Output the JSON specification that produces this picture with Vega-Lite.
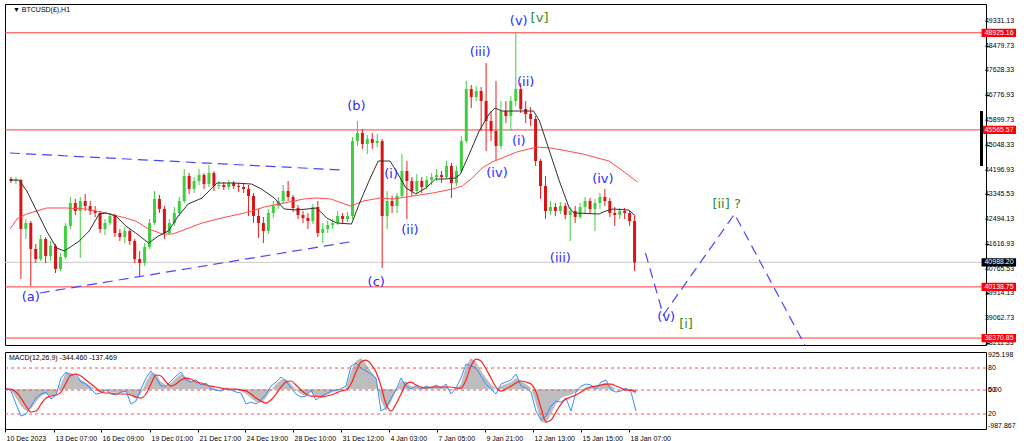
{
"$schema": "https://vega.github.io/schema/vega-lite/v6.json",
"background": "white",
"padding": {"left": 3, "top": 3, "right": 0, "bottom": 0},
"spacing": 2,
"config": {
  "view": {"stroke": "#000", "strokeWidth": 1},
  "axis": {"grid": false, "domain": false, "labelFont": "Liberation Sans", "labelFontSize": 7, "labelColor": "#000", "tickColor": "#000", "tickSize": 3, "labelPadding": 2, "title": null, "labelOverlap": false, "labelFlush": false, "labelBound": false}
},
"datasets": {
  "candles": [
{"i":0,"o":43869,"h":43938,"l":43731,"c":43800},
{"i":1,"o":43800,"h":43938,"l":43696,"c":43834},
{"i":2,"o":43834,"h":43869,"l":40412,"c":42140},
{"i":3,"o":42140,"h":42486,"l":41795,"c":42348},
{"i":4,"o":42348,"h":42417,"l":40170,"c":41449},
{"i":5,"o":41449,"h":41622,"l":40965,"c":41103},
{"i":6,"o":41103,"h":41933,"l":41034,"c":41795},
{"i":7,"o":41795,"h":41864,"l":40965,"c":41207},
{"i":8,"o":41207,"h":41726,"l":41034,"c":41553},
{"i":9,"o":41553,"h":41622,"l":40619,"c":40758},
{"i":10,"o":40758,"h":41311,"l":40688,"c":41172},
{"i":11,"o":41172,"h":42348,"l":41103,"c":42244},
{"i":12,"o":42244,"h":43247,"l":42140,"c":43039},
{"i":13,"o":43039,"h":43178,"l":42624,"c":42763},
{"i":14,"o":42763,"h":43247,"l":41138,"c":43108},
{"i":15,"o":43108,"h":43350,"l":42763,"c":42936},
{"i":16,"o":42936,"h":43108,"l":42624,"c":42763},
{"i":17,"o":42763,"h":42936,"l":42555,"c":42694},
{"i":18,"o":42694,"h":42763,"l":42002,"c":42140},
{"i":19,"o":42140,"h":42486,"l":41933,"c":42348},
{"i":20,"o":42348,"h":42694,"l":42279,"c":42590},
{"i":21,"o":42590,"h":42659,"l":41864,"c":42002},
{"i":22,"o":42002,"h":42140,"l":41726,"c":41864},
{"i":23,"o":41864,"h":42210,"l":41656,"c":42071},
{"i":24,"o":42071,"h":42140,"l":41587,"c":41726},
{"i":25,"o":41726,"h":41795,"l":40965,"c":41103},
{"i":26,"o":41103,"h":41380,"l":40516,"c":40965},
{"i":27,"o":40965,"h":41656,"l":40862,"c":41518},
{"i":28,"o":41518,"h":42486,"l":41449,"c":42348},
{"i":29,"o":42348,"h":43454,"l":42279,"c":43178},
{"i":30,"o":43178,"h":43316,"l":42694,"c":42832},
{"i":31,"o":42832,"h":42936,"l":41795,"c":42002},
{"i":32,"o":42002,"h":42486,"l":41933,"c":42348},
{"i":33,"o":42348,"h":42901,"l":42244,"c":42694},
{"i":34,"o":42694,"h":43247,"l":42590,"c":43108},
{"i":35,"o":43108,"h":44215,"l":43039,"c":43973},
{"i":36,"o":43973,"h":44076,"l":43350,"c":43523},
{"i":37,"o":43523,"h":43938,"l":43385,"c":43800},
{"i":38,"o":43800,"h":44215,"l":43662,"c":44007},
{"i":39,"o":44007,"h":44076,"l":43523,"c":43696},
{"i":40,"o":43696,"h":44353,"l":43592,"c":44076},
{"i":41,"o":44076,"h":44146,"l":43454,"c":43627},
{"i":42,"o":43627,"h":43800,"l":43523,"c":43662},
{"i":43,"o":43662,"h":43765,"l":43489,"c":43592},
{"i":44,"o":43592,"h":43834,"l":43489,"c":43731},
{"i":45,"o":43731,"h":43800,"l":43523,"c":43627},
{"i":46,"o":43627,"h":43731,"l":43420,"c":43592},
{"i":47,"o":43592,"h":43696,"l":43385,"c":43523},
{"i":48,"o":43523,"h":43662,"l":42590,"c":43281},
{"i":49,"o":43281,"h":43385,"l":42348,"c":42590},
{"i":50,"o":42590,"h":42832,"l":41829,"c":42348},
{"i":51,"o":42348,"h":42555,"l":41656,"c":42071},
{"i":52,"o":42071,"h":42832,"l":41968,"c":42694},
{"i":53,"o":42694,"h":43108,"l":42521,"c":42936},
{"i":54,"o":42936,"h":43247,"l":42832,"c":43108},
{"i":55,"o":43108,"h":43662,"l":43005,"c":43454},
{"i":56,"o":43454,"h":43800,"l":43108,"c":43247},
{"i":57,"o":43247,"h":43316,"l":42728,"c":42867},
{"i":58,"o":42867,"h":42970,"l":42486,"c":42624},
{"i":59,"o":42624,"h":42763,"l":42348,"c":42521},
{"i":60,"o":42521,"h":42694,"l":42140,"c":42417},
{"i":61,"o":42417,"h":43005,"l":42313,"c":42901},
{"i":62,"o":42901,"h":43108,"l":41864,"c":42002},
{"i":63,"o":42002,"h":42348,"l":41656,"c":42140},
{"i":64,"o":42140,"h":42417,"l":42002,"c":42279},
{"i":65,"o":42279,"h":42486,"l":42140,"c":42348},
{"i":66,"o":42348,"h":42763,"l":42279,"c":42590},
{"i":67,"o":42590,"h":42694,"l":42348,"c":42486},
{"i":68,"o":42486,"h":42728,"l":42382,"c":42590},
{"i":69,"o":42590,"h":45321,"l":42486,"c":45183},
{"i":70,"o":45183,"h":45874,"l":45010,"c":45459},
{"i":71,"o":45459,"h":45597,"l":44906,"c":45079},
{"i":72,"o":45079,"h":45390,"l":44733,"c":45252},
{"i":73,"o":45252,"h":45459,"l":44906,"c":45113},
{"i":74,"o":45113,"h":45424,"l":44975,"c":45183},
{"i":75,"o":45183,"h":45252,"l":40793,"c":42590},
{"i":76,"o":42590,"h":43454,"l":42140,"c":43108},
{"i":77,"o":43108,"h":43281,"l":42694,"c":42936},
{"i":78,"o":42936,"h":43385,"l":42694,"c":43281},
{"i":79,"o":43281,"h":44733,"l":43212,"c":44146},
{"i":80,"o":44146,"h":44491,"l":42486,"c":43800},
{"i":81,"o":43800,"h":43938,"l":43281,"c":43454},
{"i":82,"o":43454,"h":44042,"l":43350,"c":43800},
{"i":83,"o":43800,"h":43938,"l":43385,"c":43592},
{"i":84,"o":43592,"h":43973,"l":43523,"c":43834},
{"i":85,"o":43834,"h":44076,"l":43662,"c":43938},
{"i":86,"o":43938,"h":44215,"l":43800,"c":44007},
{"i":87,"o":44007,"h":44146,"l":43731,"c":43938},
{"i":88,"o":43938,"h":44491,"l":43869,"c":44318},
{"i":89,"o":44318,"h":44422,"l":43212,"c":43731},
{"i":90,"o":43731,"h":44318,"l":43627,"c":44146},
{"i":91,"o":44146,"h":45355,"l":44076,"c":45183},
{"i":92,"o":45183,"h":47257,"l":45113,"c":46980},
{"i":93,"o":46980,"h":47119,"l":46323,"c":46704},
{"i":94,"o":46704,"h":47084,"l":46565,"c":46911},
{"i":95,"o":46911,"h":47050,"l":45528,"c":46565},
{"i":96,"o":46565,"h":47879,"l":44837,"c":45874},
{"i":97,"o":45874,"h":46220,"l":45183,"c":45528},
{"i":98,"o":45528,"h":47257,"l":44491,"c":45010},
{"i":99,"o":45010,"h":46565,"l":44906,"c":46220},
{"i":100,"o":46220,"h":46565,"l":45805,"c":46047},
{"i":101,"o":46047,"h":46738,"l":45528,"c":46565},
{"i":102,"o":46565,"h":48950,"l":46392,"c":46980},
{"i":103,"o":46980,"h":47188,"l":46151,"c":46289},
{"i":104,"o":46289,"h":46565,"l":45805,"c":46116},
{"i":105,"o":46116,"h":46358,"l":45701,"c":45943},
{"i":106,"o":45943,"h":46047,"l":44318,"c":44491},
{"i":107,"o":44491,"h":44560,"l":43178,"c":43627},
{"i":108,"o":43627,"h":43973,"l":42486,"c":42763},
{"i":109,"o":42763,"h":43108,"l":42624,"c":42901},
{"i":110,"o":42901,"h":43039,"l":42590,"c":42763},
{"i":111,"o":42763,"h":43074,"l":42659,"c":42936},
{"i":112,"o":42936,"h":43039,"l":42486,"c":42624},
{"i":113,"o":42624,"h":42901,"l":41726,"c":42763},
{"i":114,"o":42763,"h":42936,"l":42348,"c":42555},
{"i":115,"o":42555,"h":43039,"l":42486,"c":42901},
{"i":116,"o":42901,"h":43247,"l":42694,"c":43108},
{"i":117,"o":43108,"h":43212,"l":42659,"c":42832},
{"i":118,"o":42832,"h":43178,"l":42071,"c":43039},
{"i":119,"o":43039,"h":43385,"l":42832,"c":43247},
{"i":120,"o":43247,"h":43523,"l":42936,"c":43108},
{"i":121,"o":43108,"h":43212,"l":42555,"c":42694},
{"i":122,"o":42694,"h":42901,"l":42244,"c":42624},
{"i":123,"o":42624,"h":42867,"l":42486,"c":42763},
{"i":124,"o":42763,"h":42867,"l":42486,"c":42694},
{"i":125,"o":42694,"h":42797,"l":42244,"c":42417},
{"i":126,"o":42417,"h":42590,"l":40688,"c":40988}
  ],
  "maFast": [
{"i":-0.2,"p":43834},{"i":1.6,"p":43834},{"i":3.2,"p":43454},{"i":5.2,"p":42763},{"i":7.2,"p":42071},{"i":9.2,"p":41484},{"i":10.8,"p":41380},{"i":13.8,"p":41726},{"i":15.8,"p":42071},{"i":17.8,"p":42659},{"i":19.2,"p":42694},{"i":21.2,"p":42590},{"i":23.2,"p":42244},{"i":25.2,"p":42002},{"i":27.8,"p":41656},{"i":29.8,"p":41898},{"i":31.8,"p":42071},{"i":33.8,"p":42590},{"i":35.8,"p":43005},{"i":38.6,"p":43212},{"i":40.6,"p":43558},{"i":41.6,"p":43731},{"i":45.2,"p":43731},{"i":48.6,"p":43696},{"i":50.6,"p":43523},{"i":53.2,"p":43212},{"i":55.2,"p":42832},{"i":57.8,"p":42797},{"i":59.8,"p":42832},{"i":61.8,"p":42867},{"i":63.8,"p":42521},{"i":65.8,"p":42348},{"i":68.8,"p":42313},{"i":70.6,"p":43108},{"i":72.6,"p":43903},{"i":74.2,"p":44491},{"i":76.6,"p":44491},{"i":78.2,"p":44042},{"i":79.8,"p":43558},{"i":81.8,"p":43350},{"i":83.8,"p":43558},{"i":85.8,"p":43869},{"i":87.8,"p":43869},{"i":89.8,"p":43903},{"i":90.8,"p":44042},{"i":92.6,"p":44733},{"i":94.6,"p":45528},{"i":96.6,"p":46116},{"i":97.8,"p":46323},{"i":99.2,"p":46220},{"i":102.6,"p":46220},{"i":105.6,"p":46220},{"i":106.8,"p":45874},{"i":108.8,"p":44837},{"i":110.8,"p":43800},{"i":112.8,"p":42867},{"i":113.8,"p":42694},{"i":118.8,"p":42659},{"i":120.2,"p":42763},{"i":121.6,"p":42832},{"i":124.8,"p":42797},{"i":126.2,"p":42590}
  ],
  "maSlow": [
{"i":-0.2,"p":42140},{"i":1.2,"p":42486},{"i":3.2,"p":42659},{"i":7.2,"p":42867},{"i":11.2,"p":42867},{"i":15.2,"p":42832},{"i":19.2,"p":42694},{"i":23.2,"p":42521},{"i":25.2,"p":42417},{"i":27.8,"p":42140},{"i":30.6,"p":41968},{"i":32.6,"p":41968},{"i":33.8,"p":42037},{"i":38.6,"p":42348},{"i":42.6,"p":42521},{"i":47.2,"p":42694},{"i":51.2,"p":42901},{"i":55.2,"p":43039},{"i":59.2,"p":43178},{"i":61.8,"p":43212},{"i":64.6,"p":43178},{"i":68.6,"p":42936},{"i":71.2,"p":43108},{"i":74.6,"p":43212},{"i":77.2,"p":43178},{"i":81.2,"p":43281},{"i":85.2,"p":43385},{"i":89.2,"p":43523},{"i":91.2,"p":43627},{"i":93.2,"p":43903},{"i":95.2,"p":44249},{"i":97.2,"p":44456},{"i":99.2,"p":44595},{"i":102.2,"p":44802},{"i":106.2,"p":44975},{"i":109.2,"p":44940},{"i":115.6,"p":44733},{"i":120.8,"p":44491},{"i":124.2,"p":44077},{"i":126.6,"p":43765}
  ],
  "levels": [
{"p":48925.16,"k":"r"},{"p":45565.57,"k":"r"},{"p":40138.75,"k":"r"},{"p":38370.85,"k":"r"},{"p":40988.2,"k":"g"}
  ],
  "ylabels": [
{"p":49331.13,"lab":"49331.13"},{"p":48479.73,"lab":"48479.73"},{"p":47628.33,"lab":"47628.33"},{"p":46776.93,"lab":"46776.93"},{"p":45899.73,"lab":"45899.73"},{"p":45048.33,"lab":"45048.33"},{"p":44196.93,"lab":"44196.93"},{"p":43345.53,"lab":"43345.53"},{"p":42494.13,"lab":"42494.13"},{"p":41616.93,"lab":"41616.93"},{"p":40765.53,"lab":"40765.53"},{"p":39914.13,"lab":"39914.13"},{"p":39062.73,"lab":"39062.73"},{"p":38211.33,"lab":"38211.33"}
  ],
  "tags": [
{"p":48925.16,"lab":"48925.16","k":"r"},{"p":45565.57,"lab":"45565.57","k":"r"},{"p":40138.75,"lab":"40138.75","k":"r"},{"p":38370.85,"lab":"38370.85","k":"r"},{"p":40988.2,"lab":"40988.20","k":"k"}
  ],
  "tri": [
{"seg":"u","i":-0.2,"p":44768},{"seg":"u","i":66.8,"p":44180},{"seg":"l","i":5.8,"p":39928},{"seg":"l","i":69.6,"p":41726}
  ],
  "proj": [
{"i":128.2,"p":41311},{"i":131.8,"p":39167},{"i":146.2,"p":42659},{"i":160.4,"p":38131}
  ],
  "waves": [
{"i":4,"p":39790,"t":"(a)","g":"b"},
{"i":69.8,"p":46393,"t":"(b)","g":"b"},
{"i":73.8,"p":40308,"t":"(c)","g":"b"},
{"i":76.8,"p":44042,"t":"(i)","g":"b"},
{"i":80.6,"p":42106,"t":"(ii)","g":"b"},
{"i":94.8,"p":48259,"t":"(iii)","g":"b"},
{"i":98.2,"p":44077,"t":"(iv)","g":"b"},
{"i":102.6,"p":45183,"t":"(i)","g":"b"},
{"i":104,"p":47222,"t":"(ii)","g":"b"},
{"i":102.6,"p":49331,"t":"(v)","g":"b"},
{"i":106.8,"p":49435,"t":"[v]","g":"g"},
{"i":111,"p":41138,"t":"(iii)","g":"b"},
{"i":119.6,"p":43869,"t":"(iv)","g":"b"},
{"i":132.4,"p":39098,"t":"(v)","g":"b"},
{"i":136.4,"p":38856,"t":"[i]","g":"g"},
{"i":144.6,"p":43005,"t":"[ii] ?","g":"g"}
  ],
  "macd": [
{"i":0,"g":5,"r":5,"b":30},{"i":1,"g":-20,"r":5,"b":-45},{"i":2,"g":-219,"r":-70,"b":-368},{"i":3,"g":-417,"r":-219,"b":-666},{"i":4,"g":-542,"r":-417,"b":-616},{"i":5,"g":-492,"r":-566,"b":-417},{"i":6,"g":-318,"r":-542,"b":-219},{"i":7,"g":-169,"r":-368,"b":-119},{"i":8,"g":-119,"r":-219,"b":-70},{"i":9,"g":-169,"r":-169,"b":-243},
{"i":10,"g":-119,"r":-144,"b":-144},{"i":11,"g":129,"r":-70,"b":278},{"i":12,"g":427,"r":154,"b":427},{"i":13,"g":402,"r":353,"b":328},{"i":14,"g":328,"r":378,"b":378},{"i":15,"g":229,"r":328,"b":179},{"i":16,"g":154,"r":229,"b":129},{"i":17,"g":79,"r":129,"b":5},{"i":18,"g":-20,"r":30,"b":-119},{"i":19,"g":-70,"r":-70,"b":-94},
{"i":20,"g":-45,"r":-94,"b":-20},{"i":21,"g":-70,"r":-94,"b":-119},{"i":22,"g":-94,"r":-119,"b":-144},{"i":23,"g":-94,"r":-119,"b":-70},{"i":24,"g":-70,"r":-119,"b":-45},{"i":25,"g":-169,"r":-144,"b":-368},{"i":26,"g":-243,"r":-194,"b":-293},{"i":27,"g":-119,"r":-219,"b":5},{"i":28,"g":179,"r":-119,"b":278},{"i":29,"g":402,"r":129,"b":452},
{"i":30,"g":378,"r":353,"b":278},{"i":31,"g":179,"r":328,"b":79},{"i":32,"g":104,"r":179,"b":79},{"i":33,"g":154,"r":79,"b":204},{"i":34,"g":278,"r":129,"b":328},{"i":35,"g":378,"r":229,"b":427},{"i":36,"g":303,"r":278,"b":229},{"i":37,"g":204,"r":253,"b":179},{"i":38,"g":179,"r":179,"b":229},{"i":39,"g":129,"r":154,"b":104},
{"i":40,"g":104,"r":104,"b":154},{"i":41,"g":55,"r":79,"b":5},{"i":42,"g":5,"r":55,"b":-20},{"i":43,"g":5,"r":30,"b":-45},{"i":44,"g":5,"r":5,"b":30},{"i":45,"g":5,"r":5,"b":-20},{"i":46,"g":-20,"r":5,"b":-70},{"i":47,"g":-45,"r":-20,"b":-94},{"i":48,"g":-119,"r":-45,"b":-368},{"i":49,"g":-219,"r":-119,"b":-318},
{"i":50,"g":-318,"r":-219,"b":-368},{"i":51,"g":-343,"r":-293,"b":-268},{"i":52,"g":-219,"r":-343,"b":-119},{"i":53,"g":-20,"r":-268,"b":79},{"i":54,"g":129,"r":-119,"b":179},{"i":55,"g":229,"r":55,"b":303},{"i":56,"g":253,"r":179,"b":204},{"i":57,"g":129,"r":204,"b":30},{"i":58,"g":-20,"r":104,"b":-119},{"i":59,"g":-119,"r":-20,"b":-194},
{"i":60,"g":-169,"r":-119,"b":-169},{"i":61,"g":-70,"r":-169,"b":-20},{"i":62,"g":-169,"r":-169,"b":-268},{"i":63,"g":-194,"r":-194,"b":-169},{"i":64,"g":-144,"r":-169,"b":-119},{"i":65,"g":-94,"r":-144,"b":-45},{"i":66,"g":-45,"r":-94,"b":-20},{"i":67,"g":-20,"r":-45,"b":5},{"i":68,"g":30,"r":-20,"b":79},{"i":69,"g":452,"r":129,"b":576},
{"i":70,"g":700,"r":427,"b":651},{"i":71,"g":775,"r":676,"b":527},{"i":72,"g":626,"r":725,"b":452},{"i":73,"g":452,"r":626,"b":378},{"i":74,"g":278,"r":427,"b":278},{"i":75,"g":-293,"r":79,"b":-542},{"i":76,"g":-542,"r":-368,"b":-467},{"i":77,"g":-318,"r":-542,"b":-219},{"i":78,"g":-45,"r":-368,"b":-20},{"i":79,"g":204,"r":-119,"b":278},
{"i":80,"g":179,"r":129,"b":79},{"i":81,"g":79,"r":179,"b":5},{"i":82,"g":55,"r":104,"b":79},{"i":83,"g":30,"r":55,"b":5},{"i":84,"g":55,"r":30,"b":79},{"i":85,"g":55,"r":55,"b":30},{"i":86,"g":79,"r":55,"b":104},{"i":87,"g":55,"r":55,"b":30},{"i":88,"g":79,"r":55,"b":129},{"i":89,"g":-20,"r":55,"b":-119},
{"i":90,"g":5,"r":30,"b":30},{"i":91,"g":129,"r":30,"b":278},{"i":92,"g":576,"r":229,"b":626},{"i":93,"g":775,"r":576,"b":576},{"i":94,"g":676,"r":750,"b":527},{"i":95,"g":452,"r":700,"b":328},{"i":96,"g":278,"r":502,"b":129},{"i":97,"g":129,"r":278,"b":5},{"i":98,"g":5,"r":55,"b":-119},{"i":99,"g":79,"r":-45,"b":129},
{"i":100,"g":129,"r":5,"b":179},{"i":101,"g":179,"r":79,"b":229},{"i":102,"g":278,"r":154,"b":378},{"i":103,"g":204,"r":204,"b":79},{"i":104,"g":129,"r":179,"b":30},{"i":105,"g":30,"r":129,"b":-70},{"i":106,"g":-368,"r":-70,"b":-542},{"i":107,"g":-815,"r":-467,"b":-765},{"i":108,"g":-840,"r":-815,"b":-666},{"i":109,"g":-616,"r":-765,"b":-417},
{"i":110,"g":-368,"r":-566,"b":-293},{"i":111,"g":-219,"r":-368,"b":-318},{"i":112,"g":-169,"r":-243,"b":-219},{"i":113,"g":-144,"r":-194,"b":-542},{"i":114,"g":-70,"r":-144,"b":-70},{"i":115,"g":-20,"r":-70,"b":79},{"i":116,"g":55,"r":5,"b":129},{"i":117,"g":79,"r":55,"b":104},{"i":118,"g":79,"r":79,"b":5},{"i":119,"g":129,"r":104,"b":179},
{"i":120,"g":154,"r":129,"b":229},{"i":121,"g":79,"r":129,"b":-20},{"i":122,"g":5,"r":79,"b":-70},{"i":123,"g":-20,"r":30,"b":-45},{"i":124,"g":-20,"r":-20,"b":30},{"i":125,"g":-45,"r":-20,"b":-70},{"i":126,"g":-119,"r":-70,"b":-542}
  ],
  "mlev": [{"v":527},{"v":-20},{"v":-616}],
  "mlabels": [
{"v":850,"lab":"925.198"},{"v":527,"lab":"80"},{"v":-20,"lab":"0.00"},{"v":-20,"lab":"50"},{"v":-616,"lab":"20"},{"v":-913,"lab":"-987.867"}
  ]
},
"vconcat": [
{
  "width": 981,
  "height": 341,
  "layer": [
    {
      "data": {"name": "levels"},
      "mark": {"type": "rule", "strokeWidth": 1},
      "encoding": {
        "y": {"field": "p", "type": "quantitative", "scale": {"domain": [38130, 49920], "nice": false, "zero": false},
              "axis": {"orient": "right", "values": [49331.13, 48479.73, 47628.33, 46776.93, 45899.73, 45048.33, 44196.93, 43345.53, 42494.13, 41616.93, 40765.53, 39914.13, 39062.73, 38211.33], "labels": false, "ticks": true, "tickSize": 3}},
        "color": {"condition": {"test": "datum.k == 'r'", "value": "#ff3b3b"}, "value": "#c8c8c8"}
      }
    },
    {
      "data": {"name": "tri"},
      "mark": {"type": "line", "color": "#4646ff", "strokeWidth": 1.2, "strokeDash": [10, 6]},
      "encoding": {
        "x": {"field": "i", "type": "quantitative", "scale": {"domain": [-0.2, 196], "nice": false, "zero": false}, "axis": null},
        "y": {"field": "p", "type": "quantitative"},
        "detail": {"field": "seg"}
      }
    },
    {
      "data": {"name": "candles"},
      "mark": {"type": "rule", "strokeWidth": 1},
      "encoding": {
        "x": {"field": "i", "type": "quantitative", "axis": null},
        "y": {"field": "l", "type": "quantitative"},
        "y2": {"field": "h"},
        "color": {"condition": {"test": "datum.c >= datum.o", "value": "#3fcf3f"}, "value": "#f01a1a"}
      }
    },
    {
      "data": {"name": "candles"},
      "mark": {"type": "bar", "orient": "vertical", "size": 3},
      "encoding": {
        "x": {"field": "i", "type": "quantitative", "axis": null},
        "y": {"field": "o", "type": "quantitative"},
        "y2": {"field": "c"},
        "color": {"condition": {"test": "datum.c >= datum.o", "value": "#3fcf3f"}, "value": "#d81414"}
      }
    },
    {
      "data": {"name": "maSlow"},
      "mark": {"type": "line", "color": "#ff4a4a", "strokeWidth": 1},
      "encoding": {
        "x": {"field": "i", "type": "quantitative", "axis": null},
        "y": {"field": "p", "type": "quantitative"}
      }
    },
    {
      "data": {"name": "maFast"},
      "mark": {"type": "line", "color": "#303030", "strokeWidth": 1},
      "encoding": {
        "x": {"field": "i", "type": "quantitative", "axis": null},
        "y": {"field": "p", "type": "quantitative"}
      }
    },
    {
      "data": {"name": "proj"},
      "mark": {"type": "line", "color": "#4646ff", "strokeWidth": 1.2, "strokeDash": [10, 6]},
      "encoding": {
        "x": {"field": "i", "type": "quantitative", "axis": null},
        "y": {"field": "p", "type": "quantitative"}
      }
    },
    {
      "data": {"name": "waves"},
      "mark": {"type": "text", "font": "DejaVu Sans", "fontSize": 13, "align": "center", "baseline": "middle"},
      "encoding": {
        "x": {"field": "i", "type": "quantitative", "axis": null},
        "y": {"field": "p", "type": "quantitative"},
        "text": {"field": "t"},
        "color": {"condition": {"test": "datum.g == 'g'", "value": "#2f8c1e"}, "value": "#2a2aff"}
      }
    },
    {
      "data": {"name": "ylabels"},
      "mark": {"type": "text", "font": "Liberation Sans", "fontSize": 7, "align": "left", "baseline": "middle", "color": "#000"},
      "encoding": {
        "x": {"datum": 196.8, "type": "quantitative", "axis": null},
        "y": {"field": "p", "type": "quantitative"},
        "text": {"field": "lab"}
      }
    },
    {
      "data": {"name": "tags"},
      "mark": {"type": "point", "shape": "M-1,-0.24H1V0.24H-1Z", "filled": true, "opacity": 1, "size": 1190, "strokeWidth": 0},
      "encoding": {
        "x": {"datum": 199.6, "type": "quantitative", "axis": null},
        "y": {"field": "p", "type": "quantitative"},
        "color": {"condition": {"test": "datum.k == 'r'", "value": "#ff0000"}, "value": "#000000"}
      }
    },
    {
      "data": {"name": "tags"},
      "mark": {"type": "text", "font": "Liberation Sans", "fontSize": 7, "align": "left", "baseline": "middle", "color": "white"},
      "encoding": {
        "x": {"datum": 196.7, "type": "quantitative", "axis": null},
        "y": {"field": "p", "type": "quantitative"},
        "text": {"field": "lab"}
      }
    },
    {
      "data": {"values": [{"top": 46220, "bot": 44318}]},
      "mark": {"type": "rule", "color": "#000", "strokeWidth": 3},
      "encoding": {
        "x": {"datum": 196.1, "type": "quantitative", "axis": null},
        "y": {"field": "top", "type": "quantitative"},
        "y2": {"field": "bot"}
      }
    },
    {
      "data": {"values": [{"t": "▼ BTCUSD(£),H1", "p": 49713, "i": 0.4}]},
      "mark": {"type": "text", "font": "Liberation Sans", "fontSize": 7, "align": "left", "baseline": "middle", "color": "#000"},
      "encoding": {
        "x": {"field": "i", "type": "quantitative", "axis": null},
        "y": {"field": "p", "type": "quantitative"},
        "text": {"field": "t"}
      }
    }
  ]
},
{
  "width": 981,
  "height": 77,
  "layer": [
    {
      "data": {"name": "macd"},
      "mark": {"type": "area", "color": "#bdbdbd"},
      "encoding": {
        "x": {"field": "i", "type": "quantitative", "scale": {"domain": [-0.2, 196], "nice": false, "zero": false},
              "axis": {"orient": "bottom", "values": [-0.2, 9.6, 19, 28.8, 38.4, 47.8, 57.4, 67, 76.6, 86.2, 95.8, 105.4, 115, 124.6],
                       "labelExpr": "['10 Dec 2023','13 Dec 07:00','16 Dec 09:00','19 Dec 01:00','21 Dec 17:00','24 Dec 19:00','28 Dec 10:00','31 Dec 12:00','4 Jan 03:00','7 Jan 05:00','9 Jan 21:00','12 Jan 13:00','15 Jan 15:00','18 Jan 07:00'][round((datum.value + 0.2) / 9.6)]",
                       "labelAlign": "left", "labelOffset": 1, "tickSize": 3, "labelPadding": 2}},
        "y": {"field": "g", "type": "quantitative", "scale": {"domain": [-988, 925], "nice": false, "zero": false}, "axis": {"orient": "right", "labels": false, "ticks": false, "values": [0]}},
        "y2": {"datum": 0}
      }
    },
    {
      "data": {"name": "mlev"},
      "mark": {"type": "rule", "color": "#ff4d4d", "strokeWidth": 1, "strokeDash": [3, 3]},
      "encoding": {
        "y": {"field": "v", "type": "quantitative"}
      }
    },
    {
      "data": {"name": "macd"},
      "mark": {"type": "line", "color": "#3b8cff", "strokeWidth": 1},
      "encoding": {
        "x": {"field": "i", "type": "quantitative"},
        "y": {"field": "b", "type": "quantitative"}
      }
    },
    {
      "data": {"name": "macd"},
      "mark": {"type": "line", "color": "#ff2020", "strokeWidth": 1.2, "interpolate": "monotone"},
      "encoding": {
        "x": {"field": "i", "type": "quantitative"},
        "y": {"field": "r", "type": "quantitative"}
      }
    },
    {
      "data": {"name": "mlabels"},
      "mark": {"type": "text", "font": "Liberation Sans", "fontSize": 7, "align": "left", "baseline": "middle", "color": "#000"},
      "encoding": {
        "x": {"datum": 196.4, "type": "quantitative"},
        "y": {"field": "v", "type": "quantitative"},
        "text": {"field": "lab"}
      }
    },
    {
      "data": {"values": [{"t": "MACD(12,26,9) -344.460 -137.469", "v": 776, "i": 0.6}]},
      "mark": {"type": "text", "font": "Liberation Sans", "fontSize": 7, "align": "left", "baseline": "middle", "color": "#000"},
      "encoding": {
        "x": {"field": "i", "type": "quantitative"},
        "y": {"field": "v", "type": "quantitative"},
        "text": {"field": "t"}
      }
    }
  ]
}
]
}
